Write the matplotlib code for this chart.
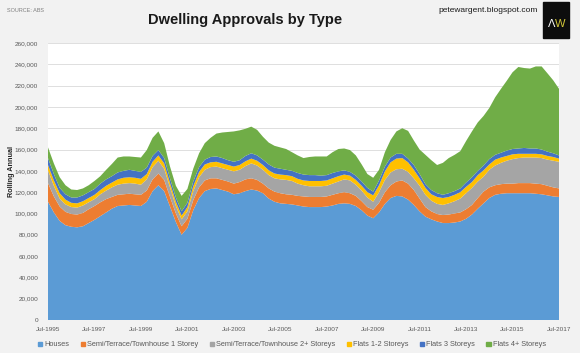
import pandas as pd
import matplotlib
matplotlib.use("Agg")
import matplotlib.pyplot as plt
from matplotlib.patches import Patch, Rectangle
import numpy as np

# quarterly rolling annual approvals, thousands
dates = pd.date_range("1995-07-01", "2017-07-01", freq="QS-JUL")

houses = [111, 101, 93, 89, 87.5, 87, 88, 91, 94, 97.5,
          101, 104.5, 107, 107.5, 108, 107.5, 107, 111, 121, 126.5,
          121, 106.5, 92, 80, 86.5, 103, 114.5, 121, 123, 123.5,
          122, 120.5, 118, 119, 121, 122.5, 121.5, 119, 114, 111,
          109.5, 109, 108.5, 107.5, 106.5, 106, 106, 106, 106.5, 107.5,
          109, 109.5, 109, 107, 103, 98, 95.5, 101, 109, 114.5,
          116.5, 116, 113, 108, 102, 97, 94.5, 92.5, 91, 91,
          91.5, 92.5, 95, 99, 104.5, 109.5, 114.5, 117.5, 118.5, 119,
          119, 119, 119, 119, 118.5, 118, 117, 116, 115.5]
semi_1 = [17.5, 15, 13.5, 12.5, 12, 12, 12.5, 13, 13, 13,
          12.5, 11, 10.5, 10.5, 10.5, 10.5, 10.5, 10.5, 11, 11,
          10.5, 9, 8, 8, 8.5, 9.5, 10, 10, 10, 9.5,
          9.5, 9.5, 10, 10.5, 11, 10.5, 10, 9, 9.5, 9.5,
          9.5, 9, 9, 9, 9.5, 9.5, 9.5, 9.5, 9.5, 10,
          10, 10.5, 10, 9.5, 8.5, 8, 8, 9, 11, 12,
          13.5, 15, 15, 14, 12, 9, 7.5, 7, 7.5, 8,
          8.5, 8.5, 9, 9, 10, 11, 10, 9, 9, 9,
          9, 9.5, 9.5, 9.5, 9.5, 9.5, 9, 8.5, 8]
semi_2 = [12, 10, 7.5, 7, 6.5, 6.5, 7, 6.5, 6.5, 7.5,
          8, 9, 9.5, 10, 10, 10, 9.5, 10.5, 11.5, 12,
          10.5, 9, 7, 6.5, 7, 8.5, 9.5, 10, 10.5, 11,
          11, 11, 11.5, 11.5, 12.5, 14, 13.5, 13, 12.5, 12.5,
          13, 13.5, 13, 11.5, 10.5, 10, 10, 10, 10, 10.5,
          11, 12, 12, 10.5, 10, 9, 7.5, 10, 11.5, 12,
          11.5, 11, 11, 11, 12, 11.5, 10, 9.5, 9.5, 10.5,
          11.5, 13, 15, 16, 15.5, 14, 16.5, 18.5, 20, 21.5,
          23, 23.5, 24, 24, 24.5, 24.5, 24.5, 25, 25]
flats_12 = [5, 5, 5, 4.5, 4, 4, 4, 4, 4, 4,
            4.5, 4.5, 5, 5.5, 5.5, 5.5, 5.5, 5, 5, 5,
            5, 4, 4, 3.5, 4, 4.5, 5, 5, 4.5, 4.5,
            4.5, 4.5, 4.5, 4.5, 4.5, 4.5, 4.5, 4.5, 4.5, 4.5,
            4.5, 4.5, 4.5, 4.5, 4.5, 5, 5, 5, 5, 5,
            5, 4.5, 4.5, 4.5, 4.5, 5, 6, 6.5, 8, 9.5,
            10, 10, 9, 8, 7, 6.5, 6, 6.5, 6.5, 6,
            6, 6, 6, 5.5, 6, 6, 5, 5.5, 5, 4.5,
            4.5, 4, 3.5, 3.5, 3.5, 3.5, 3.5, 3.5, 3]
flats_3 = [6.5, 6, 5, 5, 5, 5.5, 5.5, 5.5, 5.5, 6,
           6, 6, 6.5, 6.5, 7, 6.5, 6.5, 6, 5.5, 5,
           5, 4.5, 4, 4, 4, 4.5, 4.5, 4.5, 5, 5,
           5, 4.5, 4.5, 4.5, 5, 5, 5, 5, 5.5, 5.5,
           5.5, 5, 5, 5.5, 5.5, 5.5, 5.5, 5, 5, 5,
           4.5, 4, 3.5, 4, 4, 4, 3.5, 4.5, 4.5, 4.5,
           4.5, 4, 3.5, 4.5, 4, 3.5, 4, 3.5, 3, 3.5,
           3.5, 3.5, 4, 4.5, 4, 4.5, 5, 4.5, 4.5, 5,
           5, 5, 5.5, 5, 5, 4.5, 4, 3.5, 3]
flats_4 = [10, 10, 10, 8.5, 7.5, 7, 6.5, 6.5, 7.5, 7,
           9, 11.5, 14, 13.5, 12.5, 13, 13.5, 16.5, 17, 17.5,
           14, 11, 11, 14.5, 13, 12, 13, 15.5, 18, 21.5,
           24, 26.5, 28.5, 28, 25.5, 25, 24, 21.5, 20.5, 20.5,
           20, 19.5, 17.5, 16.5, 15.5, 17, 17.5, 18, 17.5, 19.5,
           21, 20.5, 20.5, 19, 16, 13, 13, 10, 13.5, 16.5,
           21, 24, 26, 23, 23, 27.5, 28, 26.5, 30, 33,
           34, 35, 39, 43, 45.5, 46.5, 48, 54, 60, 65.5,
           72, 76.5, 75, 75, 77, 78, 73.5, 68.5, 62.5]

labels = ["Houses", "Semi/Terrace/Townhouse 1 Storey",
          "Semi/Terrace/Townhouse 2+ Storeys", "Flats 1-2 Storeys",
          "Flats 3 Storeys", "Flats 4+ Storeys"]
colors = ["#5B9BD5", "#ED7D31", "#A5A5A5", "#FFC000", "#4472C4", "#70AD47"]

plt.rcParams["font.family"] = ["Liberation Sans", "DejaVu Sans"]

W, H = 580, 353
fig = plt.figure(figsize=(5.8, 3.53), dpi=100, facecolor="#f2f2f2")
ax = fig.add_axes([48 / W, 1 - 320 / H, (559 - 48) / W, (320 - 43) / H])
ax.set_facecolor("white")

series = [np.array(s) * 1000 for s in [houses, semi_1, semi_2, flats_12, flats_3, flats_4]]
ax.stackplot(dates, *series, colors=colors, labels=labels, linewidth=0)

ax.set_xlim(dates[0], dates[-1])
ax.set_ylim(0, 260000)
ax.set_yticks(range(0, 260001, 20000))
ax.set_yticklabels(["{:,}".format(v) for v in range(0, 260001, 20000)])
xt = pd.to_datetime(["%d-07-01" % y for y in range(1995, 2018, 2)])
ax.set_xticks(xt)
ax.set_xticklabels(["Jul-%d" % y for y in range(1995, 2018, 2)])
ax.tick_params(length=0, labelsize=4.6, labelcolor="#595959")
ax.tick_params(axis="y", pad=7)
ax.tick_params(axis="x", pad=5)
for s in ax.spines.values():
    s.set_visible(False)
ax.grid(axis="y", color="#d9d9d9", linewidth=0.6)
ax.set_axisbelow(True)

fig.text(245 / W, 1 - 20 / H, "Dwelling Approvals by Type", ha="center", va="center",
         fontsize=10.5, fontweight="bold", color="#1a1a1a")
fig.text(7 / W, 1 - 11 / H, "SOURCE: ABS", fontsize=4, color="#7f7f7f", va="center")
fig.text(488 / W, 1 - 10 / H, "petewargent.blogspot.com", ha="center", va="center",
         fontsize=6, color="#1a1a1a")
fig.text(12 / W, 1 - 172 / H, "Rolling Annual", rotation=90, ha="center", va="center",
         fontsize=5.2, fontweight="bold", color="#262626")

# logo box
fig.patches.append(Rectangle((542.7 / W, 1 - 38.3 / H), 26.6 / W, 36.6 / H,
                             transform=fig.transFigure, color="#0d0d0d"))
fig.text(551.5 / W, 1 - 24 / H, "\u039b", ha="center", va="center", fontsize=8,
         color="white")
fig.text(560 / W, 1 - 24 / H, "W", ha="center", va="center", fontsize=8,
         color="#d4c83a")

handles = [Patch(color=c) for c in colors]
fig.legend(handles, labels, loc="center", bbox_to_anchor=(292 / W, 1 - 345 / H), ncol=6,
           frameon=False, fontsize=5.3, handlelength=0.6, handleheight=0.6,
           handletextpad=0.3, columnspacing=1.5, labelcolor="#595959")

fig.savefig("out.png", dpi=100, facecolor=fig.get_facecolor())
